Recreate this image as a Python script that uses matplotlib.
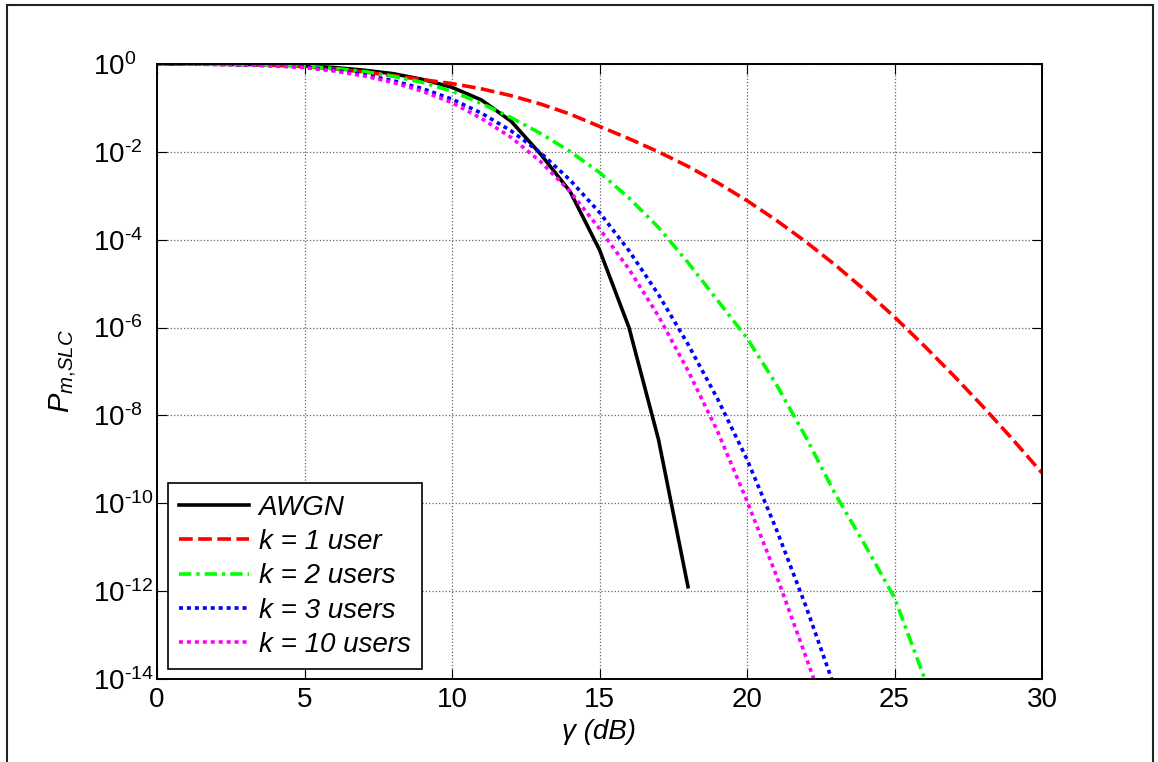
import numpy as np
import matplotlib
matplotlib.use('Agg')
import matplotlib.pyplot as plt
from matplotlib.patches import Rectangle
from matplotlib.ticker import FixedLocator, FuncFormatter, NullLocator

plt.rcParams['font.family'] = ['Liberation Sans', 'DejaVu Sans']
plt.rcParams['mathtext.fontset'] = 'custom'
plt.rcParams['mathtext.rm'] = 'Liberation Sans'
plt.rcParams['mathtext.it'] = 'Liberation Sans:italic'
plt.rcParams['axes.unicode_minus'] = False

# ---- data (log10 of probability) ----
awgn_db = list(range(0, 19))
awgn_log10 = [0.0, -0.001, -0.003, -0.008, -0.02, -0.04, -0.08, -0.14, -0.22, -0.35,
              -0.53, -0.82, -1.30, -2.05, -2.90, -4.23, -6.00, -8.55, -11.90]

k1_db = list(range(0, 31))
k1_log10 = [0.0, -0.002, -0.006, -0.015, -0.03, -0.06, -0.11, -0.18, -0.265, -0.355,
            -0.445, -0.565, -0.72, -0.91, -1.14, -1.42, -1.70, -2.00, -2.33, -2.70,
            -3.11, -3.56, -4.05, -4.58, -5.15, -5.76, -6.41, -7.09, -7.80, -8.54, -9.31]

k2_db = list(range(0, 28))
k2_log10 = [0.0, -0.002, -0.006, -0.015, -0.03, -0.05, -0.10, -0.17, -0.28, -0.42,
            -0.62, -0.90, -1.22, -1.58, -1.99, -2.47, -3.05, -3.72, -4.52, -5.38,
            -6.24, -7.30, -8.50, -9.80, -10.95, -12.15, -13.95, -15.8]

k3_db = list(range(0, 24))
k3_log10 = [0.0, -0.003, -0.008, -0.02, -0.04, -0.07, -0.14, -0.24, -0.38, -0.56,
            -0.80, -1.12, -1.52, -2.02, -2.64, -3.38, -4.25, -5.25, -6.38, -7.62,
            -9.00, -10.60, -12.35, -14.25]

k10_db = list(range(0, 24))
k10_log10 = [0.0, -0.003, -0.009, -0.022, -0.045, -0.08, -0.16, -0.27, -0.42, -0.62,
             -0.88, -1.24, -1.67, -2.22, -2.90, -3.75, -4.67, -5.74, -6.98, -8.36,
             -9.95, -11.65, -13.50, -15.4]

labels = ['AWGN', 'k = 1 user', 'k = 2 users', 'k = 3 users', 'k = 10 users']
x_ticks = [0, 5, 10, 15, 20, 25, 30]
y_ticks = [1e0, 1e-2, 1e-4, 1e-6, 1e-8, 1e-10, 1e-12, 1e-14]

# ---- figure ----
W, H = 1158, 762
fig = plt.figure(figsize=(W / 100, H / 100), dpi=100)
fig.patch.set_facecolor('white')

# outer frame
fig.add_artist(Rectangle((7 / W, -0.01), (1153 - 7) / W, 1.01 - 5 / H,
                         transform=fig.transFigure, fill=False,
                         edgecolor='#222222', linewidth=1.5))

ax = fig.add_axes([157 / W, 1 - 679 / H, (1042 - 157) / W, (679 - 64) / H])

lw = 2.6
ax.plot(awgn_db, 10.0 ** np.array(awgn_log10), color='black', lw=lw,
        linestyle='-', label=labels[0])
ax.plot(k1_db, 10.0 ** np.array(k1_log10), color=(1, 0, 0), lw=lw,
        linestyle=(0, (3.8, 1.5)), label=labels[1])
ax.plot(k2_db, 10.0 ** np.array(k2_log10), color=(0, 1, 0), lw=lw,
        linestyle=(0, (3.4, 1.4, 0.9, 1.4)), label=labels[2])
ax.plot(k3_db, 10.0 ** np.array(k3_log10), color=(0, 0, 1), lw=lw,
        linestyle=(0, (1.1, 1.1)), label=labels[3])
ax.plot(k10_db, 10.0 ** np.array(k10_log10), color=(1, 0, 1), lw=lw,
        linestyle=(0, (1.1, 1.1)), label=labels[4])

ax.set_yscale('log')
ax.set_xlim(0, 30)
ax.set_ylim(1e-14, 1e0)
ax.xaxis.set_major_locator(FixedLocator(x_ticks))
ax.yaxis.set_major_locator(FixedLocator(y_ticks))
ax.yaxis.set_minor_locator(NullLocator())


def pow_label(v, pos):
    e = int(round(np.log10(v)))
    if e < 0:
        return r'$\mathdefault{10^{\text{-}%d}}$' % (-e)
    return r'$\mathdefault{10^{%d}}$' % e


ax.yaxis.set_major_formatter(FuncFormatter(pow_label))

ax.grid(True, which='major', color=(0.4, 0.4, 0.4), linestyle=':', linewidth=0.9)
ax.tick_params(axis='both', which='major', direction='in', length=7, width=0.8,
               top=True, right=True, labelsize=20, colors='black')
ax.tick_params(axis='x', pad=6)
ax.tick_params(axis='y', pad=46)
for lab in ax.get_yticklabels():
    lab.set_horizontalalignment('left')
for sp in ax.spines.values():
    sp.set_linewidth(1.4)
    sp.set_color('black')

ax.set_xlabel('γ (dB)', fontsize=20, style='italic', labelpad=4)
ax.set_ylabel(r'$\mathit{P}_{\mathit{m{,}SLC}}$', fontsize=21)
ax.yaxis.set_label_coords(-0.088, 0.5)

leg = ax.legend(loc='lower left', bbox_to_anchor=(168 / W, 1 - 669 / H),
                bbox_transform=fig.transFigure, borderaxespad=0,
                prop={'size': 20, 'style': 'italic'}, frameon=True,
                fancybox=False, handlelength=2.5, handletextpad=0.36,
                labelspacing=0.3, borderpad=0.4)
leg.get_frame().set_edgecolor('black')
leg.get_frame().set_linewidth(1.2)
leg.get_frame().set_alpha(1)

fig.savefig('out.png', dpi=100, facecolor='white')
